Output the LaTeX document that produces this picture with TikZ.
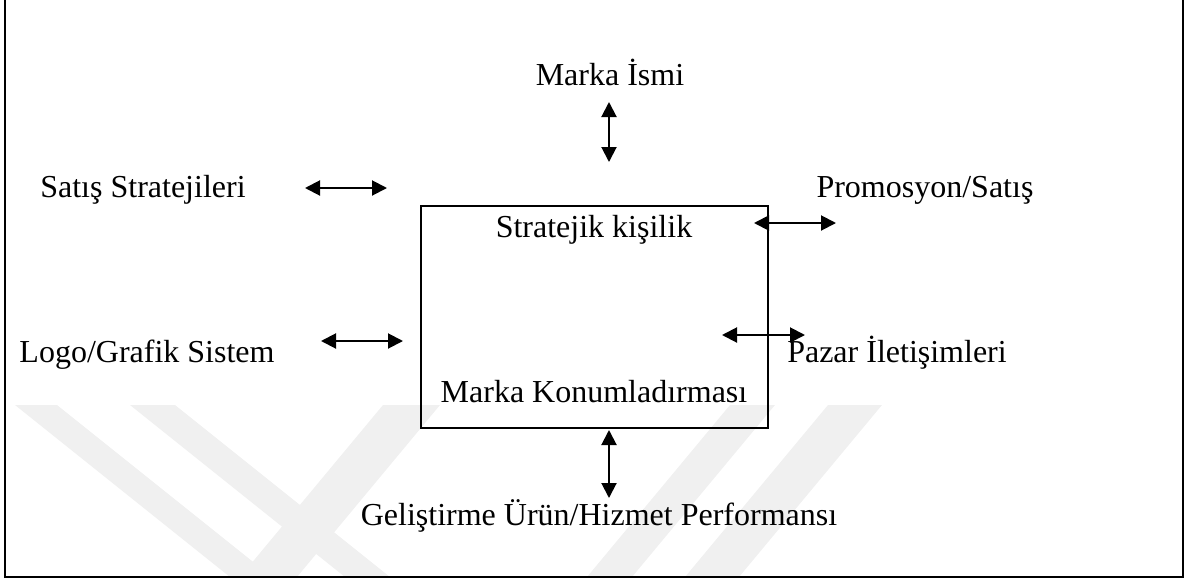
\documentclass[tikz,border=0pt]{standalone}
\usepackage{fontspec}
\setmainfont{Liberation Serif}
\usetikzlibrary{arrows.meta}
\begin{document}
\begin{tikzpicture}[x=1pt,y=-1pt,
  lbl/.style={font=\fontsize{32}{38}\selectfont, inner sep=0pt, anchor=base},
  dblarrow/.style={line width=2pt, {Triangle[length=15pt,width=15pt]}-{Triangle[length=15pt,width=15pt]}},
  band/.style={fill=black!6, draw=none}]
\useasboundingbox (0,0) rectangle (1195,579);
% watermark bands
\begin{scope}
\clip (6,0) rectangle (1182,576);
\fill[band] (15,405) -- (57,405) -- (272,577) -- (230,577) -- cycle;
\fill[band] (130,405) -- (175,405) -- (390,577) -- (345,577) -- cycle;
\fill[band] (383,405) -- (440,405) -- (297,577) -- (240,577) -- cycle;
\fill[band] (730,405) -- (775,405) -- (632,577) -- (587,577) -- cycle;
\fill[band] (828,405) -- (882,405) -- (739,577) -- (685,577) -- cycle;
\end{scope}
% outer frame
\draw[line width=2.5pt] (5,-10) -- (5,577) -- (1183,577) -- (1183,-10);
% central box
\node[draw, line width=2pt, minimum width=347pt, minimum height=222pt, inner sep=0pt] (box) at (594.5,317) {};
% labels
\node[lbl] (isim) at (610,85) {Marka İsmi};
\node[lbl] (satis) at (143,197) {Satış Stratejileri};
\node[lbl] (promo) at (925,197) {Promosyon/Satış};
\node[lbl] (strat) at (594,237) {Stratejik kişilik};
\node[lbl] (logo) at (147,362) {Logo/Grafik Sistem};
\node[lbl] (pazar) at (897,362) {Pazar İletişimleri};
\node[lbl] (konum) at (594,402) {Marka Konumladırması};
\node[lbl] (gelis) at (599,525) {Geliştirme Ürün/Hizmet Performansı};
% arrow end points
\coordinate (t1) at (609,102); \coordinate (t2) at (609,162);
\coordinate (s1) at (305,188); \coordinate (s2) at (387,188);
\coordinate (p1) at (754,223); \coordinate (p2) at (836,223);
\coordinate (z1) at (722,335); \coordinate (z2) at (805,335);
\coordinate (l1) at (321,341); \coordinate (l2) at (403,341);
\coordinate (b1) at (609,430); \coordinate (b2) at (609,498);
\draw[dblarrow] (t1) -- (t2);
\draw[dblarrow] (s1) -- (s2);
\draw[dblarrow] (p1) -- (p2);
\draw[dblarrow] (z1) -- (z2);
\draw[dblarrow] (l1) -- (l2);
\draw[dblarrow] (b1) -- (b2);
\end{tikzpicture}
\end{document}
